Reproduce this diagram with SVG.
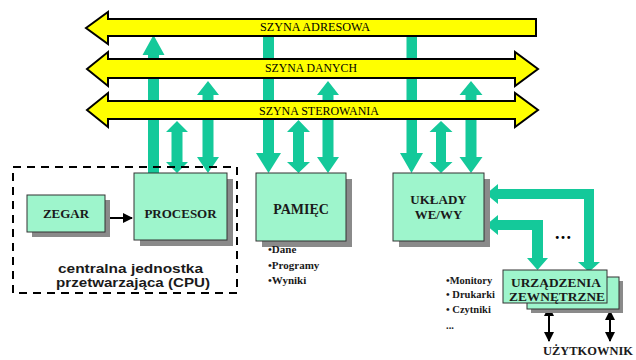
<svg xmlns="http://www.w3.org/2000/svg" width="636" height="360" viewBox="0 0 636 360">
<style>
.bus{fill:#ffff00;stroke:#000;stroke-width:2;stroke-linejoin:miter}
.busl{font-family:"Liberation Serif","Times New Roman",serif;font-size:12px;fill:#000}
.g{fill:#14c99a}
.box{fill:#9ef5cc;stroke:#333;stroke-width:1}
.sh{fill:#8a8a8a}
.bt{font-family:"Liberation Serif","Times New Roman",serif;font-weight:bold;font-size:13px;fill:#1a1a1a;text-anchor:middle}
.bs{font-family:"Liberation Serif","Times New Roman",serif;font-weight:bold;font-size:13.5px;fill:#1a1a1a}
.lst{font-family:"Liberation Serif","Times New Roman",serif;font-weight:bold;font-size:11px;fill:#1a1a1a}
.lst2{font-family:"Liberation Serif","Times New Roman",serif;font-weight:bold;font-size:10.5px;fill:#1a1a1a}
.cpu{font-family:"Liberation Sans",Arial,sans-serif;font-weight:bold;font-size:13px;fill:#1a1a1a}
.blk{stroke:#000;stroke-width:2;fill:none}
</style>
<defs>
<marker id="ah" viewBox="0 0 10 10" refX="9" refY="5" markerWidth="5" markerHeight="5" orient="auto-start-reverse" markerUnits="strokeWidth">
<path d="M0,0 L10,5 L0,10 z" fill="#000"/>
</marker>
</defs>

<g id="connectors">
<!-- CPU -->
<polygon class="g" points="153.5,35 164.5,55 159,55 159,173 148,173 148,55 142.5,55"/>
<polygon class="g" points="177,121 188,132 182.5,132 182.5,162 188,162 177,173 166,162 171.5,162 171.5,132 166,132"/>
<polygon class="g" points="208,81 219,95 213.5,95 213.5,157 219,157 208,173 197,157 202.5,157 202.5,95 197,95"/>
<!-- Memory -->
<polygon class="g" points="263,35 274,35 274,153 281,153 268.5,173 256,153 263,153"/>
<polygon class="g" points="298.5,120 310,132 304,132 304,162 310,162 298.5,173 287,162 293,162 293,132 287,132"/>
<polygon class="g" points="328,81 339,95 333.5,95 333.5,157 339,157 328,173 317,157 322.5,157 322.5,95 317,95"/>
<!-- IO -->
<polygon class="g" points="406.5,35 417,35 417,153 423,153 411.5,173 400,153 406.5,153"/>
<polygon class="g" points="441,121 452.5,132 446,132 446,162 452.5,162 441,173 429.5,162 436,162 436,132 429.5,132"/>
<polygon class="g" points="471,81 482.5,95 476.5,95 476.5,157 482.5,157 471,173 459.5,157 465.5,157 465.5,95 459.5,95"/>
<!-- IO to devices -->
<polygon class="g" points="486,194 498,184 498,189 594,189 594,262 600,262 589,272 578,262 584,262 584,199 498,199 498,204"/>
<polygon class="g" points="486,225 498,215 498,220 543,220 543,258 548,258 537.5,270 527,258 532,258 532,230 498,230 498,235"/>
<!-- clock to processor -->
<line class="blk" x1="105" y1="218" x2="132" y2="218" marker-end="url(#ah)"/>
<!-- devices to user -->
<line class="blk" x1="549" y1="307" x2="549" y2="341" marker-start="url(#ah)" marker-end="url(#ah)"/>
<line class="blk" x1="610" y1="311" x2="610" y2="341" marker-start="url(#ah)" marker-end="url(#ah)"/>
</g>

<g id="bus-address">
<polygon class="bus" points="86,28 108,12 108,19 536,19 536,36 108,36 108,44"/>
<text class="busl" x="260" y="31" textLength="110" lengthAdjust="spacingAndGlyphs">SZYNA ADRESOWA</text>
</g>
<g id="bus-data">
<polygon class="bus" points="87,69 108,52 108,59 515,59 515,52 538,69 515,86 515,78 108,78 108,86"/>
<text class="busl" x="265" y="72" textLength="92" lengthAdjust="spacingAndGlyphs">SZYNA DANYCH</text>
</g>
<g id="bus-control">
<polygon class="bus" points="87,110 108,93 108,101 515,101 515,93 538,110 515,127 515,119 108,119 108,127"/>
<text class="busl" x="259" y="115" textLength="120" lengthAdjust="spacingAndGlyphs">SZYNA STEROWANIA</text>
</g>

<g id="cpu">
<rect x="13" y="167" width="224" height="126" fill="none" stroke="#000" stroke-width="2" stroke-dasharray="8 6"/>
<text class="cpu" x="58" y="273" textLength="145" lengthAdjust="spacingAndGlyphs">centralna jednostka</text>
<text class="cpu" x="56" y="287" textLength="154" lengthAdjust="spacingAndGlyphs">przetwarzająca (CPU)</text>
</g>

<g id="zegar">
<rect class="sh" x="32" y="200" width="78" height="37"/>
<rect class="box" x="27" y="195" width="78" height="37"/>
<text class="bt" x="66" y="218">ZEGAR</text>
</g>

<g id="procesor">
<rect class="sh" x="140" y="179" width="93" height="67"/>
<rect class="box" x="134" y="173" width="93" height="67"/>
<text class="bt" x="180.5" y="218">PROCESOR</text>
</g>

<g id="pamiec">
<rect class="sh" x="262" y="179" width="90" height="68"/>
<rect class="box" x="256" y="173" width="90" height="68"/>
<text class="bt" x="301" y="214" style="font-size:14px">PAMIĘC</text>
<text class="lst" x="268" y="253">•Dane</text>
<text class="lst" x="268" y="269">•Programy</text>
<text class="lst" x="268" y="284">•Wyniki</text>
</g>

<g id="uklady">
<rect class="sh" x="399" y="179" width="91" height="68"/>
<rect class="box" x="393" y="173" width="91" height="68"/>
<text class="bt" x="438.5" y="204">UKŁADY</text>
<text class="bt" x="438.5" y="219">WE/WY</text>
</g>

<g id="dots">
<text x="555" y="239" font-family="Liberation Serif, serif" font-weight="bold" font-size="18" textLength="16" lengthAdjust="spacing">...</text>
</g>

<g id="urzadzenia">
<rect class="sh" x="531" y="281" width="92" height="32"/>
<rect class="box" x="527" y="277" width="92" height="32"/>
<rect class="box" x="503" y="270" width="104" height="33"/>
<text class="bs" x="511" y="287" textLength="90" lengthAdjust="spacingAndGlyphs">URZĄDZENIA</text>
<text class="bs" x="509" y="301" textLength="96" lengthAdjust="spacingAndGlyphs">ZEWNĘTRZNE</text>
<text class="lst2" x="446" y="284">•Monitory</text>
<text class="lst2" x="446" y="298">• Drukarki</text>
<text class="lst2" x="446" y="313">• Czytniki</text>
<text class="lst2" x="446" y="329">...</text>
</g>

<g id="uzytkownik">
<text class="bs" x="543" y="355" style="font-size:13px" textLength="90" lengthAdjust="spacingAndGlyphs">UŻYTKOWNIK</text>
</g>
</svg>
